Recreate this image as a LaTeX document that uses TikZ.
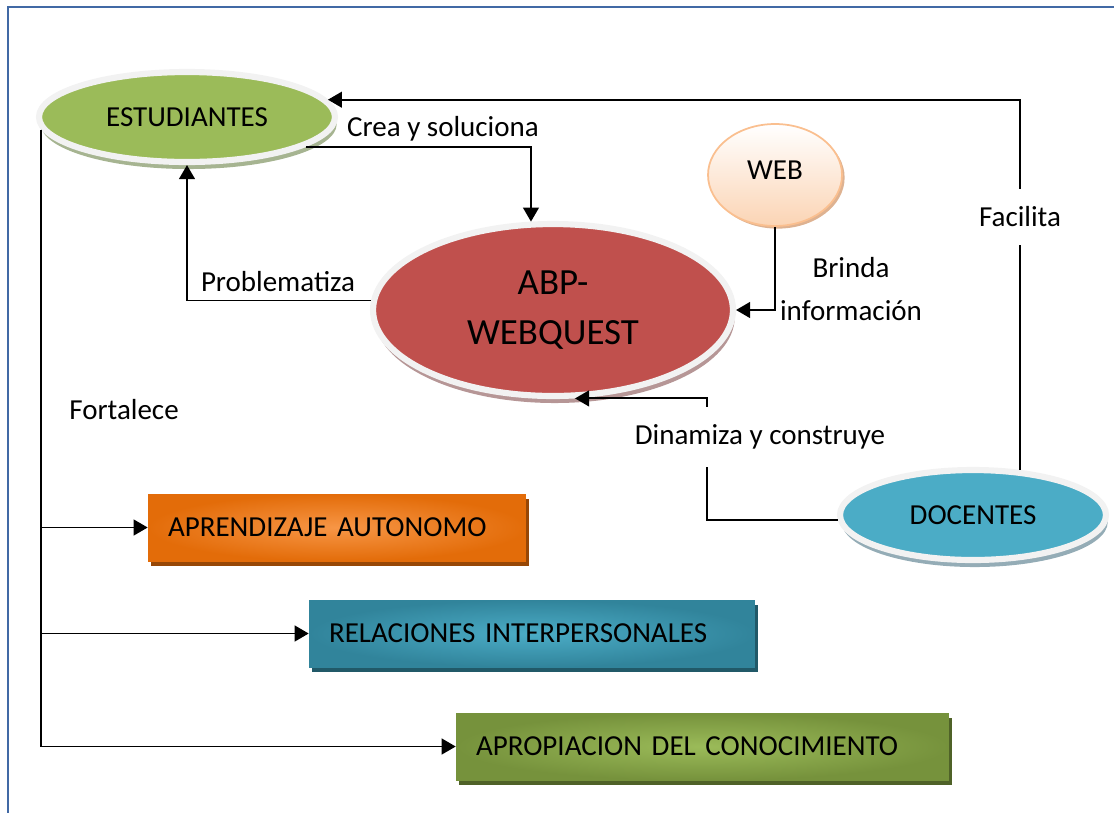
\documentclass[tikz,border=0pt]{standalone}
\usepackage{fontspec}
\setmainfont{Carlito}
\usetikzlibrary{shapes.geometric,arrows.meta,shadows}

\definecolor{framblue}{RGB}{65,105,165}
\definecolor{rimgray}{RGB}{242,242,242}
\definecolor{estgreen}{RGB}{155,187,89}
\definecolor{estshade}{RGB}{166,180,145}
\definecolor{abpred}{RGB}{192,80,77}
\definecolor{abpshade}{RGB}{182,150,150}
\definecolor{docblue}{RGB}{75,172,198}
\definecolor{docshade}{RGB}{148,172,182}
\definecolor{webpeach}{RGB}{251,212,180}
\definecolor{webline}{RGB}{250,191,143}
\definecolor{webshade}{RGB}{222,178,145}
\definecolor{aprdark}{RGB}{227,108,9}
\definecolor{aprlight}{RGB}{247,150,70}
\definecolor{aprshade}{RGB}{151,71,6}
\definecolor{reldark}{RGB}{49,132,155}
\definecolor{rellight}{RGB}{75,172,198}
\definecolor{relshade}{RGB}{33,89,104}
\definecolor{apodark}{RGB}{118,146,60}
\definecolor{apolight}{RGB}{155,187,89}
\definecolor{aposhade}{RGB}{79,98,40}

\tikzset{
    every node/.style={font=\fontsize{16.5}{20}\selectfont},
    arr/.style={line width=1.1pt, -{Triangle[length=8pt, width=9pt]}},
    oval/.style={ellipse, draw=rimgray, line width=3.5pt},
    ovalshadow/.style={drop shadow={shadow xshift=1pt, shadow yshift=-4pt, fill=#1, opacity=1}},
    tag/.style={rectangle, minimum height=1.34cm, inner xsep=0.4cm, align=left},
    boxshadow/.style={drop shadow={shadow xshift=1.5pt, shadow yshift=-3pt, fill=#1, opacity=1}},
    lbl/.style={fill=white, inner ysep=10pt},
    pageframe/.style={draw=framblue, line width=1.2pt}
}

\begin{document}
\begin{tikzpicture}[x=0.02cm, y=-0.02cm]
    \useasboundingbox (0,0) rectangle (1114,812);
    \clip (0,0) rectangle (1114,812);
    \draw[pageframe] (8,7) rectangle (1130,830);

    \draw
    (187, 117) node[oval, fill=estgreen, ovalshadow=estshade, minimum width=5.92cm, minimum height=1.8cm](est){ESTUDIANTES}
    (553, 310) node[oval, fill=abpred, ovalshadow=abpshade, minimum width=7.2cm, minimum height=3.44cm, align=center, font=\fontsize{21}{28.4}\selectfont](abp){ABP-\\WEBQUEST}
    (775, 175) node[ellipse, draw=webline, line width=1pt, top color=white, bottom color=webpeach, drop shadow={shadow xshift=1.5pt, shadow yshift=-1.5pt, fill=webshade, opacity=1}, minimum width=2.68cm, minimum height=2.04cm](web){\raisebox{5pt}{WEB}}
    (973, 515) node[oval, fill=docblue, ovalshadow=docshade, minimum width=5.32cm, minimum height=1.8cm](doc){DOCENTES}
    (337, 527.5) node[tag, inner color=aprlight, outer color=aprdark, boxshadow=aprshade, text width=6.76cm](apr){APRENDIZAJE AUTONOMO}
    (532, 633.5) node[tag, inner color=rellight, outer color=reldark, boxshadow=relshade, text width=8.12cm](rel){RELACIONES INTERPERSONALES}
    (702.5, 746.5) node[tag, inner color=apolight, outer color=apodark, boxshadow=aposhade, text width=9.06cm](apo){APROPIACION DEL CONOCIMIENTO};

    \coordinate (din) at (707, 0);

    \draw[arr] (doc.44) |- (est.7);
    \draw[arr] (est.-14) -| (abp.104);
    \draw[arr] (abp.177) -| (est.south);
    \draw[arr] (web.south) |- (abp.east);
    \draw[arr] (doc.182) -| (din |- abp.-76) -- (abp.-76);
    \draw[arr] (est.185) |- (apr.west);
    \draw[arr] (est.185) |- (rel.west);
    \draw[arr] (est.185) |- (apo.west);

    \draw
    (443, 129) node(crl){Crea y soluciona}
    (278, 282) node(prl){Problematiza}
    (851, 289) node[align=center, font=\fontsize{16.5}{24}\selectfont](brl){Brinda\\información}
    (1020, 217) node[lbl](fal){Facilita}
    (760, 437) node[lbl](dil){Dinamiza y construye}
    (124, 410) node(fol){Fortalece};

\end{tikzpicture}
\end{document}
